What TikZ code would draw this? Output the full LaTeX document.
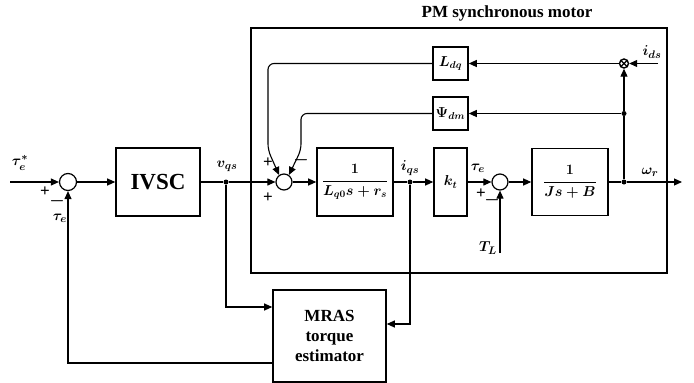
\documentclass[tikz,border=0pt]{standalone}
\usepackage{amsmath}
\usepackage{fontspec}
\setmainfont{Liberation Serif}
\usetikzlibrary{arrows.meta,calc}
\begin{document}
\begin{tikzpicture}[x=1pt,y=-1pt,
  wire/.style={line width=1.1pt},
  arr/.style={wire,-{Triangle[length=8pt,width=7pt]}},
  blk/.style={draw,line width=1.6pt,inner sep=0pt,font=\fontsize{14}{16}\selectfont\boldmath},
  sumj/.style={draw,circle,line width=1.2pt,minimum size=17pt,inner sep=0pt},
  jdot/.style={circle,fill,inner sep=0pt,minimum size=5pt},
  lab/.style={font=\fontsize{15}{16}\selectfont\bfseries\boldmath,inner sep=1pt},
  sgn/.style={font=\fontsize{17}{18}\selectfont\bfseries\boldmath,inner sep=0pt}]
\useasboundingbox (0,0) rectangle (694,383);
\node[font=\fontsize{17}{19}\selectfont\bfseries] (title) at (507,13) {PM synchronous motor};
\node[draw,line width=1.6pt,minimum width=416pt,minimum height=245pt,inner sep=0pt] (motor) at (459,150.5) {};
\coordinate (in) at (10,182);
\node[sumj] (s1) at (68,182) {};
\node[blk,minimum width=84pt,minimum height=68pt,font=\fontsize{23}{25}\selectfont\bfseries] (ivsc) at (158,182) {IVSC};
\node[jdot] (vd) at (226,182) {};
\node[sumj,minimum size=16pt] (s2) at (284,182) {};
\node[blk,minimum width=76pt,minimum height=68pt] (g1) at (355,182) {$\dfrac{1}{L_{q0}s+r_s}$};
\node[jdot] (id) at (410,182) {};
\node[blk,minimum width=33pt,minimum height=68pt] (kt) at (450.5,182) {$k_t$};
\node[sumj,minimum size=16pt] (s3) at (500,182) {};
\node[blk,minimum width=76pt,minimum height=67pt] (g2) at (570,182) {$\dfrac{1}{Js+B}$};
\node[jdot] (wd) at (624,182) {};
\coordinate (out) at (682,182);
\node[blk,minimum width=35pt,minimum height=33pt] (psi) at (450.5,113.5) {$\Psi_{dm}$};
\node[blk,minimum width=35pt,minimum height=33pt] (ldq) at (450.5,63.5) {$L_{dq}$};
\node[jdot] (pd) at (624,113.5) {};
\node[draw,circle,line width=1.4pt,minimum size=9pt,inner sep=0pt,
  path picture={\draw[line width=1.1pt] (path picture bounding box.north west) -- (path picture bounding box.south east)
  (path picture bounding box.north east) -- (path picture bounding box.south west);}] (mult) at (624,63.5) {};
\coordinate (ids) at (658,63.5);
\coordinate (tl) at (500,253);
\node[blk,minimum width=113pt,minimum height=92pt,align=center,font=\fontsize{17}{20}\selectfont\bfseries] (mras) at (329.5,336) {MRAS\\torque\\estimator};
% wires
\draw[arr] (in) -- (s1);
\draw[arr] (s1) -- (ivsc);
\draw[wire] (ivsc) -- (vd);
\draw[arr] (vd) -- (s2);
\draw[arr] (vd) |- ($(mras.west)+(0,-29)$);
\draw[arr] (s2) -- (g1);
\draw[wire] (g1) -- (id);
\draw[arr] (id) -- (kt);
\draw[arr] (id) |- ($(mras.east)+(0,-12)$);
\draw[arr] ($(mras.west)+(0,27)$) -| (s1);
\draw[arr] (kt) -- (s3);
\draw[arr] (tl) -- (s3);
\draw[arr] (s3) -- (g2);
\draw[wire] (g2) -- (wd);
\draw[arr] (wd) -- (out);
\draw[wire] (wd) -- (pd);
\draw[arr] (pd) -- (mult);
\draw[arr] (pd) -- (psi);
\draw[arr] (ids) -- (mult);
\draw[arr] (mult) -- (ldq);
\draw[arr,rounded corners=6pt] (ldq.west) -| (268,150) -- (s2.125);
\draw[arr,rounded corners=6pt] (psi.west) -| (301,150) -- (s2.55);
% labels
\node[lab] at (20,163) {$\tau_e^*$};
\node[sgn] at (45,192) {+};
\node[sgn] at (57,201) {$-$};
\node[lab] at (60,218) {$\tau_e$};
\node[lab] at (227,166) {$v_{qs}$};
\node[sgn] at (268,163) {+};
\node[sgn] at (301,160) {$-$};
\node[sgn] at (268,198) {+};
\node[lab] at (410,168) {$i_{qs}$};
\node[lab] at (478,168) {$\tau_e$};
\node[sgn] at (481,194) {+};
\node[sgn] at (492,200) {$-$};
\node[lab] at (488,248) {$T_L$};
\node[lab] at (650,172) {$\omega_r$};
\node[lab] at (652,52) {$i_{ds}$};
\end{tikzpicture}
\end{document}
